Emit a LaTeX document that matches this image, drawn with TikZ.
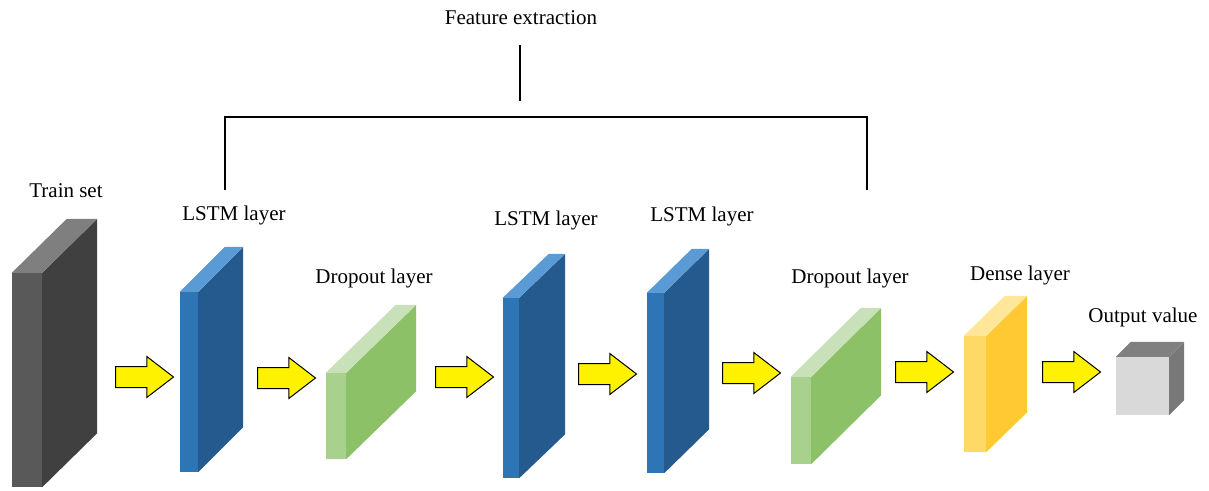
\documentclass[tikz,border=0pt]{standalone}
\usepackage{fontspec}
\setmainfont{Liberation Serif}
\usepackage{tikz}
\usetikzlibrary{calc, shapes.arrows}
\usepackage{xcolor}

\definecolor{trainfront}{HTML}{595959}
\definecolor{trainside}{HTML}{404040}
\definecolor{traintop}{HTML}{7F7F7F}
\definecolor{lstmfront}{HTML}{2E75B6}
\definecolor{lstmside}{HTML}{245A8D}
\definecolor{lstmtop}{HTML}{5B9BD5}
\definecolor{dropfront}{HTML}{A9D18E}
\definecolor{dropside}{HTML}{8CC168}
\definecolor{droptop}{HTML}{C9E1B8}
\definecolor{densefront}{HTML}{FFD966}
\definecolor{denseside}{HTML}{FFC933}
\definecolor{densetop}{HTML}{FFE699}
\definecolor{outfront}{HTML}{D9D9D9}
\definecolor{outside}{HTML}{787878}
\definecolor{outtop}{HTML}{808080}

\tikzset{
  face/.style = {rectangle, draw=none, inner sep=0pt},
  flow/.style = {single arrow, draw=black, fill=yellow, line width=1pt, inner sep=0pt,
    minimum height=58pt, text height=10pt, text depth=10pt, anchor=tail,
    single arrow head extend=10pt, single arrow tip angle=75},
  tag/.style = {font=\fontsize{21}{25}\selectfont}
}

\newcommand{\slab}[4]{%
  \fill[#3] (#1.north east) -- ++(#2) -- ($(#1.south east)+(#2)$) -- (#1.south east) -- cycle;
  \fill[#4] (#1.north west) -- ++(#2) -- ($(#1.north east)+(#2)$) -- (#1.north east) -- cycle;
}

\begin{document}
\begin{tikzpicture}[x=1pt, y=-1pt]
\useasboundingbox (0,0) rectangle (1209,490);
\node[face, fill=trainfront, minimum width=30pt, minimum height=214pt] (train) at (27,380) {};
\slab{train}{55,-54}{trainside}{traintop}
\node[face, fill=lstmfront, minimum width=18pt, minimum height=180pt] (lstma) at (189,382) {};
\slab{lstma}{45,-45}{lstmside}{lstmtop}
\node[face, fill=dropfront, minimum width=20pt, minimum height=86pt] (dropa) at (336,416) {};
\slab{dropa}{70,-68}{dropside}{droptop}
\node[face, fill=lstmfront, minimum width=16pt, minimum height=180pt] (lstmb) at (511,388) {};
\slab{lstmb}{46,-44}{lstmside}{lstmtop}
\node[face, fill=lstmfront, minimum width=17pt, minimum height=180pt] (lstmc) at (655.5,383) {};
\slab{lstmc}{45,-44}{lstmside}{lstmtop}
\node[face, fill=dropfront, minimum width=20pt, minimum height=87pt] (dropb) at (801,420.5) {};
\slab{dropb}{70,-69}{dropside}{droptop}
\node[face, fill=densefront, minimum width=22pt, minimum height=116pt] (dense) at (975,394) {};
\slab{dense}{41,-40}{denseside}{densetop}
\node[face, fill=outfront, minimum width=53pt, minimum height=58pt] (out) at (1142.5,386) {};
\slab{out}{15,-15}{outside}{outtop}
\node[flow] (fa) at (115,377) {};
\node[flow] (fb) at (257,378) {};
\node[flow] (fc) at (435,377) {};
\node[flow] (fd) at (578,374) {};
\node[flow] (fe) at (722,373) {};
\node[flow] (ff) at (895,372) {};
\node[flow] (fg) at (1042,372) {};
\node[tag] (tagtrain) at (66,191) {Train set};
\node[tag] (taglstma) at (234,215) {LSTM layer};
\node[tag] (tagdropa) at (374,278) {Dropout layer};
\node[tag] (taglstmb) at (546,220) {LSTM layer};
\node[tag] (taglstmc) at (702,216) {LSTM layer};
\node[tag] (tagdropb) at (850,278) {Dropout layer};
\node[tag] (tagdense) at (1020,275) {Dense layer};
\node[tag] (tagout) at (1143,317) {Output value};
\node[tag] (feature) at (521,18) {Feature extraction};
\coordinate (stem) at (520,45);
\coordinate (mid) at (520,101);
\coordinate (bl) at (225,117);
\coordinate (br) at (867,117);
\coordinate (fl) at (225,190);
\coordinate (fr) at (867,190);
\draw[line width=1.5pt] (stem) -- (mid);
\draw[line width=1.5pt] (fl) -- (bl) -- (br) -- (fr);
\end{tikzpicture}
\end{document}
